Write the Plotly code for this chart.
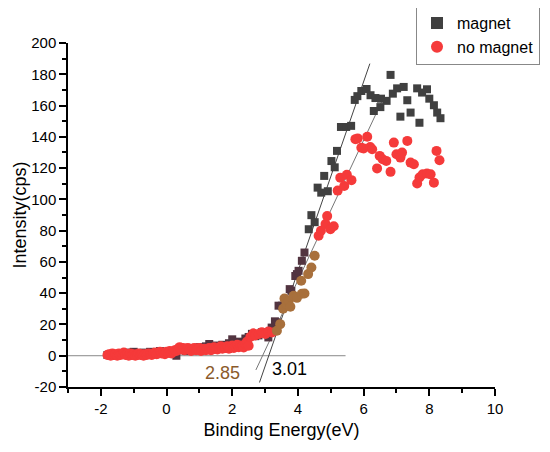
import plotly.graph_objects as go

# magnet (grey squares)
magnet_x = [-1.8, -1.7, -1.6, -1.5, -1.4, -1.3, -1.2, -1.1, -1.0, -0.9, -0.8, -0.7, -0.6, -0.5,
            -0.4, -0.3, -0.2, -0.1, 0.0, 0.1, 0.2, 0.3, 0.4, 0.5, 0.6, 0.7, 0.8, 0.9, 1.0, 1.1,
            1.2, 1.3, 1.4, 1.5, 1.6, 1.7, 1.8, 1.9, 2.0, 2.1, 2.2, 2.3, 2.4, 2.5, 2.6, 2.7, 2.8,
            2.9, 3.0, 3.1, 3.2, 3.3, 3.36, 3.41, 3.51, 3.6, 3.75, 3.8, 3.92, 3.97, 4.02, 4.12,
            4.2, 4.33, 4.41, 4.51, 4.6, 4.71, 4.8, 4.91, 5.02, 5.12, 5.19, 5.31, 5.47, 5.62,
            5.73, 5.81, 5.93, 6.09, 6.21, 6.31, 6.36, 6.51, 6.53, 6.7, 6.82, 6.89, 7.02, 7.12,
            7.22, 7.33, 7.43, 7.63, 7.7, 7.78, 7.93, 8.0, 8.14, 8.24, 8.34]
magnet_y = [0.5, 0, 1, 0.5, 1.5, 1, 2, 1, 2.5, 1.5, 1, 2, 1.5, 2.5,
            1, 2, 3, 2, 1.5, 3, 2.5, 0, 3.5, 4, 3, 5, 4, 3.5, 5.5, 4.5,
            6, 7.5, 5, 6.5, 5.5, 7, 6, 8, 10.5, 7.5, 9, 8, 11, 12, 14, 12.5, 13,
            15, 14.5, 11.7, 18, 22, 21.3, 32, 32, 36, 42.6, 41.5, 51, 52.2, 54.3, 60.7,
            66, 80.9, 89.9, 85.4, 107.5, 104.3, 115, 105.2, 124.5, 120.5, 131, 146.3, 146.3, 147,
            163.6, 166, 169.3, 170.6, 166.6, 156.5, 164.8, 159, 164.4, 163, 179.6, 167.6, 171, 152.9,
            171.9, 163.4, 155.5, 171, 149, 168.3, 170.4, 164.4, 160.2, 155.5, 151.9]

# no magnet (red circles)
nomag_x = [-1.8, -1.75, -1.7, -1.65, -1.6, -1.55, -1.5, -1.45, -1.4, -1.35, -1.3, -1.25, -1.2,
           -1.15, -1.1, -1.05, -1.0, -0.95, -0.9, -0.85, -0.8, -0.75, -0.7, -0.65, -0.6, -0.55,
           -0.5, -0.45, -0.4, -0.35, -0.3, -0.25, -0.2, -0.15, -0.1, -0.05, 0.0, 0.05, 0.1, 0.15,
           0.2, 0.25, 0.3, 0.35, 0.4, 0.45, 0.5, 0.55, 0.6, 0.65, 0.7, 0.75, 0.8, 0.85, 0.9, 0.95,
           1.0, 1.05, 1.1, 1.15, 1.2, 1.25, 1.3, 1.35, 1.4, 1.45, 1.5, 1.55, 1.6, 1.65, 1.7, 1.75,
           1.8, 1.85, 1.9, 1.95, 2.0, 2.05, 2.1, 2.15, 2.2, 2.25, 2.3, 2.35, 2.4, 2.45, 2.5, 2.55,
           2.65, 2.7, 2.81, 2.9, 3.01, 3.1, 3.21, 3.36, 3.46, 3.55, 3.59, 3.65, 3.72, 3.77, 3.87,
           3.97, 4.1, 4.12, 4.2, 4.31, 4.41, 4.51, 4.63, 4.7, 4.84, 4.89, 4.99, 5.09, 5.21, 5.29,
           5.41, 5.49, 5.63, 5.75, 5.82, 5.93, 6.0, 6.11, 6.2, 6.26, 6.41, 6.49, 6.58, 6.69, 6.82,
           6.92, 7.0, 7.12, 7.17, 7.33, 7.43, 7.53, 7.63, 7.7, 7.8, 7.93, 8.04, 8.14, 8.22, 8.31]
nomag_y = [0.5, 1.0, 0.0, 1.5, 0.5, 1.0, 0.0, 1.5, 0.5, 1.0, 2.0, 0.5, 1.0,
           0.0, 1.5, 0.5, 1.0, 0.0, 0.5, 1.5, 0.5, 1.0, 0.0, 1.0, 0.5, 1.5,
           1.0, 0.5, 1.5, 2.0, 1.0, 1.5, 2.5, 1.5, 2.0, 1.0, 2.5, 2.0, 3.0, 1.5,
           2.5, 3.5, 3.0, 4.5, 5.5, 4.0, 5.0, 3.5, 4.5, 5.0, 4.0, 3.0, 4.5, 5.0, 3.5, 4.0,
           5.0, 3.0, 4.0, 4.5, 3.5, 4.5, 5.0, 3.5, 4.0, 5.5, 4.5, 4.0, 5.0, 6.0, 4.5, 5.5,
           5.0, 6.0, 4.5, 5.5, 6.5, 5.0, 6.0, 7.0, 5.5, 6.5, 6.0, 5.3, 7.5, 9.0, 6.4, 12.0,
           14.3, 13.0, 13.9, 15.0, 13.9, 15.5, 14.9, 16.0, 20.2, 30.0, 36.6, 33.0, 35.1, 31.3, 38.3,
           37.0, 47.9, 39.6, 39.8, 52.2, 56.4, 63.9, 76.7, 79.9, 84.2, 89.3, 80.9, 82.8, 105.6, 113.9,
           108.6, 115.7, 112.3, 138.5, 139.0, 133.0, 132.5, 140.0, 133.5, 132.0, 119.8, 127.8, 125.7, 124.6, 117.6,
           136.3, 128.8, 126.7, 129.9, 137.4, 123.5, 122.5, 110.1, 114.0, 116.1, 116.5, 116.0, 110.7, 131.0, 125.0]

# tangent lines and baseline
fit_magnet_x = [2.83, 6.19]
fit_magnet_y = [-17.1, 186.8]
fit_nomag_x = [2.72, 6.63]
fit_nomag_y = [-9.1, 166.0]
base_x = [-3, 5.45]
base_y = [0, 0]

# tick labels (plain hyphen minus as in the original)
x_ticks = [-2, 0, 2, 4, 6, 8, 10]
x_labels = ["-2", "0", "2", "4", "6", "8", "10"]
y_ticks = [-20, 0, 20, 40, 60, 80, 100, 120, 140, 160, 180, 200]
y_labels = ["-20", "0", "20", "40", "60", "80", "100", "120", "140", "160", "180", "200"]

# the overlap region in the source picture shows tinted markers
sq_colors = ["#523440" if -1.75 < x < 4.3 else "#404040" for x in magnet_x]
ci_colors = ["#a8703c" if 3.3 < x < 4.6 else "#f53a3a" for x in nomag_x]

fig = go.Figure()
fig.add_trace(go.Scatter(x=base_x, y=base_y, mode="lines",
                         line=dict(color="#888888", width=1), showlegend=False))
fig.add_trace(go.Scatter(x=fit_magnet_x, y=fit_magnet_y, mode="lines",
                         line=dict(color="#444444", width=1), showlegend=False))
fig.add_trace(go.Scatter(x=fit_nomag_x, y=fit_nomag_y, mode="lines",
                         line=dict(color="#777777", width=1), showlegend=False))
fig.add_trace(go.Scatter(x=magnet_x, y=magnet_y, mode="markers", name="magnet",
                         marker=dict(symbol="square", size=8, color=sq_colors)))
fig.add_trace(go.Scatter(x=nomag_x, y=nomag_y, mode="markers", name="no magnet",
                         marker=dict(symbol="circle", size=10, color=ci_colors)))

fig.add_annotation(x=1.69, y=-11.3, text="2.85", showarrow=False,
                   font=dict(size=18, color="#8b5a2b"))
fig.add_annotation(x=3.74, y=-8.5, text="3.01", showarrow=False,
                   font=dict(size=18, color="black"))

axis_style = dict(showline=True, linecolor="black", linewidth=1.5, mirror=False,
                  ticks="outside", ticklen=7, tickwidth=1.5, tickcolor="black",
                  showgrid=False, zeroline=False, automargin=False,
                  tickfont=dict(size=15, color="black"))

fig.update_xaxes(range=[-3, 10], tickmode="array", tickvals=x_ticks, ticktext=x_labels,
                 minor=dict(ticks="outside", ticklen=4, tickwidth=1.5,
                            tickcolor="black", dtick=1, tick0=0, showgrid=False),
                 title=dict(text="Binding Energy(eV)", font=dict(size=18, color="black"),
                            standoff=8),
                 **axis_style)
fig.update_yaxes(range=[-20, 200], tickmode="array", tickvals=y_ticks, ticktext=y_labels,
                 minor=dict(ticks="outside", ticklen=4, tickwidth=1.5,
                            tickcolor="black", dtick=10, tick0=0, showgrid=False),
                 title=dict(text="Intensity(cps)", font=dict(size=18, color="black"),
                            standoff=0),
                 **axis_style)

# the page adds an 8px body margin, so margins are shifted by that amount
fig.update_layout(
    width=550, height=452,
    margin=dict(l=60, r=63, t=35, b=73, autoexpand=False),
    paper_bgcolor="white", plot_bgcolor="white",
    font=dict(family="Liberation Sans, Arial, sans-serif", color="black"),
    legend=dict(x=0.815, y=1.11, xanchor="left", yanchor="top",
                bordercolor="#888888", borderwidth=1, bgcolor="white",
                font=dict(size=16), tracegroupgap=0, itemsizing="constant"),
)

fig.write_html("out.html")
